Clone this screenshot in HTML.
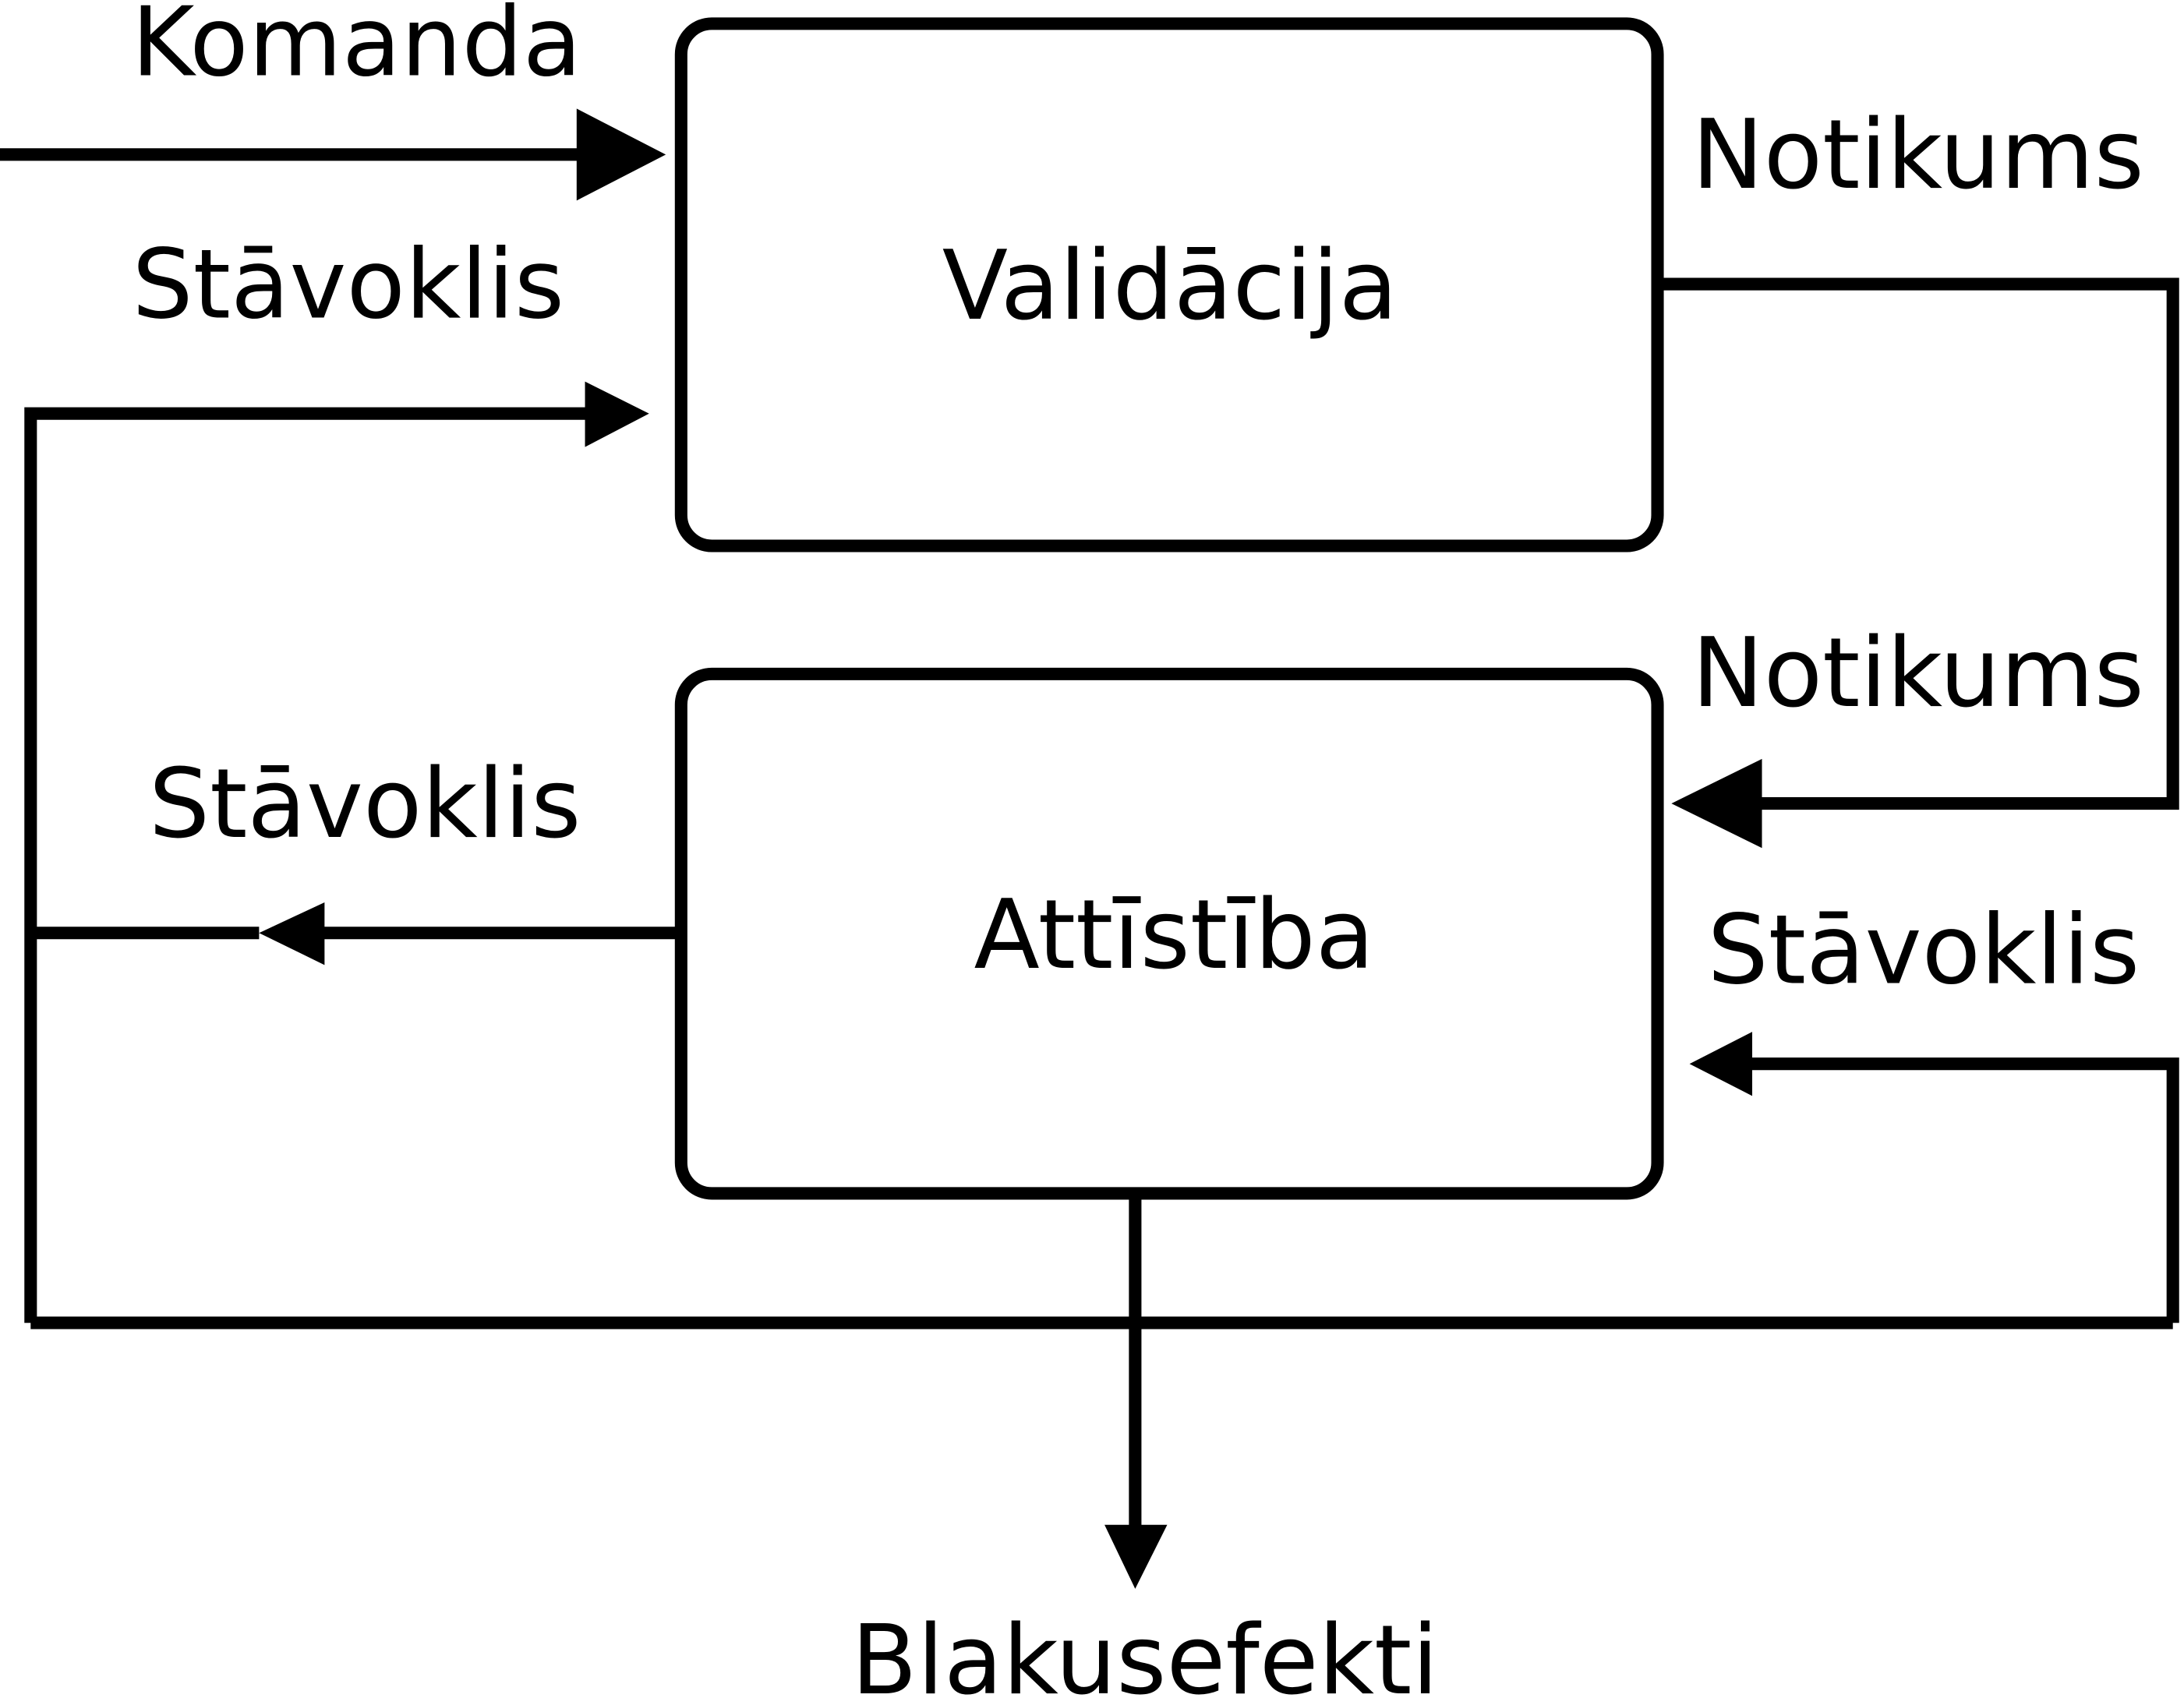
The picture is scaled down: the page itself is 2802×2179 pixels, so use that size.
<!DOCTYPE html>
<html><head><meta charset="utf-8"><style>
html,body{margin:0;padding:0;background:#fff;}
svg{display:block;}
text{font-family:"DejaVu Sans","Liberation Sans",sans-serif;font-size:69px;fill:#000;text-anchor:middle;}
</style></head><body>
<svg width="2802" height="2179" viewBox="0 0 1568 1219.4" preserveAspectRatio="none" xmlns="http://www.w3.org/2000/svg">
<g fill="none" stroke="#000" stroke-width="9">
<rect x="489" y="17" width="701" height="375" rx="22"/>
<rect x="489" y="484" width="701" height="373" rx="22"/>
<line x1="0" y1="111" x2="416" y2="111"/>
<polyline points="22,950 22,297 421,297"/>
<line x1="22" y1="950" x2="1560" y2="950"/>
<polyline points="1190,204 1560,204 1560,577 1264,577"/>
<polyline points="1560,950 1560,764 1257,764"/>
<line x1="489" y1="670" x2="232" y2="670"/>
<line x1="22" y1="670" x2="186" y2="670"/>
<line x1="815" y1="857" x2="815" y2="1096"/>
</g>
<g fill="#000">
<polygon points="414,78 478,111 414,144"/>
<polygon points="420,274 466,297 420,321"/>
<polygon points="1265,545 1200,577 1265,609"/>
<polygon points="1258,741 1213,764 1258,787"/>
<polygon points="233,648 186,670 233,693"/>
<polygon points="793,1095 838,1095 815,1141"/>
</g>
<text x="256" y="54">Komanda</text>
<text x="250" y="228">Stāvoklis</text>
<text x="262" y="601">Stāvoklis</text>
<text x="1377" y="135">Notikums</text>
<text x="1377" y="507">Notikums</text>
<text x="1381" y="706">Stāvoklis</text>
<text x="840" y="229">Validācija</text>
<text x="843" y="695">Attīstība</text>
<text x="822" y="1216">Blakusefekti</text>
</svg>
</body></html>
